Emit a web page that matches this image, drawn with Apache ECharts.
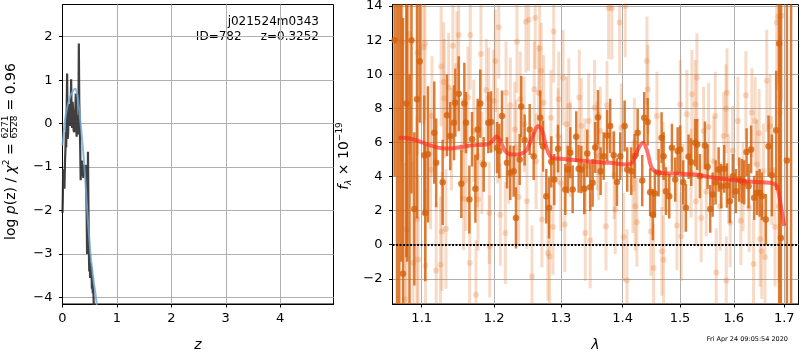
<!DOCTYPE html>
<html>
<head>
<meta charset="utf-8">
<script src="https://cdn.jsdelivr.net/npm/echarts@6/dist/echarts.min.js"></script>
<style>
  html, body { margin: 0; padding: 0; background: #fff; }
  #main { width: 800px; height: 350px; }
</style>
</head>
<body>
<div id="main"></div>
<script>
var chartDom = document.getElementById('main');
var myChart = echarts.init(chartDom);
var option;

// ---- left panel: log p(z)
var pzZ = [0.0, 0.006, 0.012, 0.02, 0.03, 0.036, 0.045, 0.054, 0.062, 0.068, 0.075, 0.085, 0.095, 0.104, 0.112, 0.122, 0.13, 0.14, 0.15, 0.159, 0.168, 0.177, 0.186, 0.195, 0.204, 0.214, 0.222, 0.232, 0.244, 0.252, 0.26, 0.268, 0.276, 0.284, 0.292, 0.3, 0.308, 0.318, 0.326, 0.334, 0.342, 0.35, 0.358, 0.366, 0.374, 0.382, 0.39, 0.398, 0.408, 0.418, 0.428, 0.437, 0.445, 0.452, 0.46, 0.468, 0.476, 0.484, 0.492, 0.5, 0.508, 0.516, 0.524, 0.532, 0.54, 0.548, 0.556, 0.564, 0.572, 0.58];
var pzLog = [-2.05, -1.7, -1.05, -1.25, -1.15, -1.5, -0.9, -0.6, -0.2, -0.55, 0.15, 1.15, -0.35, -0.2, 0.45, 0.35, 0.05, -0.05, 0.3, 1.02, 0.1, -0.1, 0.5, 0.3, -0.15, -0.2, 0.25, 0.1, 0.69, -0.1, -0.3, 0.2, -0.05, 0.0, -0.25, 1.84, 0.5, -0.05, -0.6, -1.3, -0.95, -1.2, -0.85, -1.1, -0.95, -1.25, -1.0, -1.15, -0.95, -1.2, -0.95, -1.5, -2.2, -3.0, -2.2, -0.65, -1.8, -2.9, -3.4, -3.0, -3.55, -3.2, -3.4, -3.3, -3.8, -3.5, -3.9, -3.7, -4.05, -4.6];
var fitZ = [0.0, 0.03, 0.06, 0.1, 0.15, 0.2, 0.23, 0.26, 0.29, 0.32, 0.34, 0.37, 0.4, 0.43, 0.46, 0.49, 0.52, 0.55, 0.58, 0.61, 0.63, 0.65];
var fitLog = [-0.5, -0.1, 0.2, 0.45, 0.65, 0.77, 0.8, 0.74, 0.5, 0.15, -0.1, -0.5, -0.95, -1.5, -2.1, -2.6, -3.07, -3.4, -3.7, -3.95, -4.17, -4.5];
var zTicks = [0, 1, 2, 3, 4];
var logpTicks = [-4, -3, -2, -1, 0, 1, 2];

// ---- right panel: spectrum
var darkWave = [1.0648, 1.0679, 1.0708, 1.0734, 1.0756, 1.0799, 1.0810, 1.0840, 1.0866, 1.0903, 1.0938, 1.0974, 1.1034, 1.1047, 1.1083, 1.1167, 1.1193, 1.1280, 1.1339, 1.1384, 1.1435, 1.1453, 1.1500, 1.1536, 1.1578, 1.1601, 1.1648, 1.1685, 1.1732, 1.1765, 1.1801, 1.1850, 1.1916, 1.1954, 1.2041, 1.2074, 1.2113, 1.2186, 1.2234, 1.2284, 1.2318, 1.2373, 1.2397, 1.2447, 1.2523, 1.2583, 1.2683, 1.2724, 1.2775, 1.2817, 1.2852, 1.2898, 1.2956, 1.3070, 1.3108, 1.3148, 1.3186, 1.3243, 1.3281, 1.3323, 1.3371, 1.3419, 1.3467, 1.3506, 1.3548, 1.3593, 1.3636, 1.3686, 1.3744, 1.3794, 1.3851, 1.3906, 1.3961, 1.4035, 1.4079, 1.4146, 1.4204, 1.4256, 1.4335, 1.4369, 1.4428, 1.4472, 1.4519, 1.4554, 1.4619, 1.4672, 1.4707, 1.4748, 1.4807, 1.4855, 1.4914, 1.4957, 1.5003, 1.5057, 1.5106, 1.5155, 1.5203, 1.5276, 1.5313, 1.5362, 1.5455, 1.5505, 1.5554, 1.5599, 1.5655, 1.5712, 1.5761, 1.5818, 1.5869, 1.5926, 1.5984, 1.6041, 1.6105, 1.6157, 1.6202, 1.6248, 1.6287, 1.6337, 1.6396, 1.6450, 1.6503, 1.6549, 1.6628, 1.6682, 1.6749, 1.6836, 1.6896, 1.6931, 1.7053, 1.7140];
var darkFlux = [12.0, 16, -5, 17, -1.7, 8.28, 15, -4, 12, 2.1, 8.53, 10.76, 5.25, 1.86, 5.3, 6.57, 4.8, 3.66, 7.59, 6.37, 7.16, 8.33, 8.86, 3.57, 8.28, 7.16, 2.65, 6.18, 3.28, 6.76, 8.28, 4.71, 7.16, 7.2, 5.69, 5.49, 7.55, 4.8, 4.22, 4.31, 1.57, 5.0, 8.1, 6.14, 6.76, 5.19, 7.45, 5.78, 2.84, 2.16, 4.86, 3.82, 5.63, 3.24, 4.41, 5.39, 3.24, 6.33, 4.45, 4.41, 3.28, 5.35, 3.37, 3.63, 5.7, 7.47, 4.31, 5.19, 6.41, 6.96, 5.24, 3.67, 5.19, 6.96, 4.41, 4.31, 5.19, 6.57, 3.76, 7.45, 7.2, 3.08, 1.76, 3.0, 4.22, 6.27, 5.19, 3.14, 2.84, 5.69, 3.82, 5.49, 5.59, 3.66, 2.16, 5.16, 4.84, 5.98, 5.88, 4.02, 5.82, 4.57, 2.1, 2.94, 3.66, 4.41, 3.43, 4.45, 3.47, 2.55, 4.02, 3.14, 3.82, 3.72, 3.66, 5.43, 3.43, 5.59, 2.75, 3.04, 3.04, 2.84, 1.47, 5.78, 4.07, 6.71, 11.8, 0.39, 4.94, 20];
var darkErr = [8, 22, 20, 18, 15, 9, 16, 14, 9, 4.5, 7, 3.6, 3.5, 4, 4, 3, 2.6, 2.5, 2.4, 2.0, 2.2, 2.0, 2.2, 2.0, 2.4, 1.8, 2.0, 1.6, 2.0, 1.8, 2.0, 1.6, 1.8, 1.8, 1.5, 1.6, 1.5, 1.5, 1.6, 1.5, 1.8, 1.5, 1.8, 1.5, 1.5, 1.4, 1.6, 1.5, 1.6, 1.8, 1.5, 1.5, 1.4, 1.5, 1.4, 1.5, 1.4, 1.5, 1.4, 1.4, 1.5, 1.4, 1.4, 1.4, 1.5, 1.6, 1.4, 1.4, 1.5, 1.6, 1.4, 1.4, 1.4, 1.5, 1.3, 1.4, 1.3, 1.4, 1.5, 1.5, 1.4, 1.4, 1.5, 1.4, 1.4, 1.5, 1.4, 1.4, 1.3, 1.4, 1.3, 1.4, 1.4, 1.3, 1.4, 1.3, 1.4, 1.4, 1.5, 1.3, 1.4, 1.3, 1.4, 1.3, 1.3, 1.3, 1.3, 1.4, 1.3, 1.3, 1.3, 1.3, 1.3, 1.3, 1.3, 1.4, 1.3, 1.4, 1.3, 1.3, 1.4, 1.4, 1.5, 1.8, 2.4, 3.5, 16, 20, 20, 30];

var lightWave = [1.0743, 1.0778, 1.0799, 1.0838, 1.0886, 1.0938, 1.0947, 1.0951, 1.1026, 1.1044, 1.1050, 1.1118, 1.1137, 1.1193, 1.1250, 1.1260, 1.1271, 1.1294, 1.1301, 1.1325, 1.1361, 1.1400, 1.1420, 1.1475, 1.1500, 1.1545, 1.1568, 1.1600, 1.1629, 1.1652, 1.1661, 1.1709, 1.1741, 1.1760, 1.1769, 1.1811, 1.1825, 1.1887, 1.1921, 1.1930, 1.1936, 1.1993, 1.2017, 1.2050, 1.2066, 1.2089, 1.2162, 1.2172, 1.2212, 1.2235, 1.2300, 1.2320, 1.2333, 1.2358, 1.2382, 1.2441, 1.2466, 1.2482, 1.2507, 1.2557, 1.2592, 1.2607, 1.2620, 1.2658, 1.2673, 1.2698, 1.2708, 1.2734, 1.2800, 1.2826, 1.2847, 1.2878, 1.2889, 1.2956, 1.2967, 1.3000, 1.3034, 1.3061, 1.3087, 1.3125, 1.3150, 1.3291, 1.3323, 1.3380, 1.3387, 1.3441, 1.3467, 1.3537, 1.3580, 1.3603, 1.3630, 1.3724, 1.3740, 1.3768, 1.3822, 1.3860, 1.3878, 1.3951, 1.3978, 1.4018, 1.4045, 1.4074, 1.4175, 1.4200, 1.4214, 1.4243, 1.4415, 1.4432, 1.4484, 1.4531, 1.4589, 1.4677, 1.4700, 1.4707, 1.4945, 1.5003, 1.5021, 1.5050, 1.5124, 1.5200, 1.5216, 1.5276, 1.5289, 1.5307, 1.5386, 1.5431, 1.5480, 1.5524, 1.5620, 1.5648, 1.5667, 1.5742, 1.5807, 1.5851, 1.5857, 1.5870, 1.5900, 1.5932, 1.5978, 1.6080, 1.6137, 1.6180, 1.6234, 1.6298, 1.6351, 1.6384, 1.6415, 1.6450, 1.6494, 1.6514, 1.6547, 1.6581, 1.6612, 1.6646, 1.6712, 1.6745, 1.6812, 1.6846, 1.6880, 1.6892, 1.6912, 1.6946];
var lightFlux = [11.86, -3.2, 0.88, 12.35, -1.08, 1.51, 11.27, -0.88, 11.57, 11.8, -1.24, 4.4, 7.55, -1.51, -1.18, 10.45, 0.78, 9.55, 8.57, 0.92, 9.22, 6.2, 11.67, 10.49, 12.3, 5.59, 2.69, 3.8, 8.63, -1.08, 12.3, 6.67, -2.94, 5.2, 2.65, 11.18, 4.8, 9.08, 8.57, 1.86, -0.1, 8.43, 10.78, 6.4, 12.75, 1.76, 0.69, 8.92, 5.2, 8.18, 6.76, 5.7, 11.9, 2.8, 8.53, 7.06, 13.08, 2.55, 13.2, -1.86, 9.12, 13.3, 4.9, 8.92, 11.51, 10.2, 1.47, 8.33, -0.49, -0.69, 7.45, 1.04, 12.51, 6.37, 8.53, 3.6, 9.8, 1.18, 7.06, 8.14, 5.59, 8.63, 6.96, 4.6, 0.69, 7.25, 0.25, 8.04, 5.8, 5.2, 6.67, 1.08, 8.18, 13.88, 13.86, 4.1, 2.06, 13.04, 6.86, 0.45, 14.0, -2.1, 3.28, 6.0, 2.25, 1.31, 10.78, 9.12, 0.78, -1.37, 7.55, -0.39, 4.6, -0.88, 1.12, 8.22, 0.49, 3.3, 7.65, 4.2, 8.82, 8.24, 2.55, 9.8, 1.57, 6.67, 3.1, 6.9, 4.9, 7.55, -1.63, 2.25, 6.37, 7.98, -2.1, 8.92, 3.9, 1.28, 5.53, 7.25, 1.41, 3.4, 8.76, 2.16, 7.75, -1.14, 7.25, 4.7, 6.53, 0.33, -0.39, 4.31, -0.72, 9.61, 6.96, 4.35, 1.04, 13.04, 13.39, 2.25, 7.75, 13.43];
var lightErr = [7, 8, 7, 7, 6, 6, 6, 5, 4.5, 4.5, 4.5, 3.5, 3.5, 4, 4, 3.5, 3.5, 3.5, 3.5, 3.5, 3.2, 3, 3.5, 3.2, 3.2, 3, 3, 3, 3, 3, 3.2, 3, 3.2, 3, 3, 3.2, 3, 3, 3, 3, 3, 3, 3, 2.8, 3, 3, 3, 3, 2.8, 2.8, 2.8, 2.8, 3, 2.8, 2.8, 2.8, 3, 2.8, 3, 3, 2.8, 3, 2.8, 2.8, 2.8, 2.8, 2.8, 2.8, 2.8, 2.8, 2.8, 2.8, 3, 2.8, 2.8, 2.8, 2.8, 2.8, 2.8, 2.8, 2.8, 2.8, 2.8, 2.8, 2.8, 2.8, 2.8, 2.8, 2.6, 2.6, 2.6, 2.6, 2.6, 3, 3, 2.6, 2.6, 3, 2.6, 2.6, 3, 3, 2.6, 2.6, 2.6, 2.6, 2.6, 2.6, 2.6, 2.6, 2.6, 2.6, 2.6, 2.6, 2.6, 2.6, 2.6, 2.6, 2.6, 2.6, 2.6, 2.6, 2.6, 2.6, 2.6, 2.6, 2.6, 2.6, 2.6, 2.6, 2.6, 2.6, 2.6, 2.6, 2.6, 2.6, 2.6, 2.6, 2.6, 2.6, 2.6, 2.6, 2.6, 2.6, 2.6, 2.6, 2.6, 2.6, 2.6, 2.8, 2.8, 2.8, 2.8, 3, 3, 3.2, 3.5, 4, 4, 4.5, 4.5, 5];

var modelWave = [1.070, 1.083, 1.096, 1.109, 1.127, 1.138, 1.155, 1.173, 1.190, 1.197, 1.203, 1.2074, 1.216, 1.226, 1.236, 1.243, 1.248, 1.258, 1.265, 1.271, 1.2785, 1.286, 1.299, 1.326, 1.352, 1.379, 1.407, 1.416, 1.424, 1.4345, 1.4415, 1.450, 1.462, 1.4975, 1.528, 1.559, 1.590, 1.6215, 1.655, 1.6745, 1.6846, 1.689, 1.6946, 1.700];
var modelFlux = [6.27, 6.25, 6.08, 5.86, 5.66, 5.64, 5.75, 5.84, 5.88, 6.05, 6.33, 6.2, 5.5, 5.29, 5.29, 5.4, 5.55, 6.5, 6.96, 6.7, 5.6, 5.1, 5.04, 4.96, 4.86, 4.8, 4.71, 4.8, 5.45, 5.98, 5.55, 4.5, 4.22, 4.16, 4.12, 3.94, 3.82, 3.72, 3.66, 3.62, 3.45, 3.0, 2.0, 1.1];
var waveTicks = [1.1, 1.2, 1.3, 1.4, 1.5, 1.6, 1.7];
var fluxTicks = [-2, 0, 2, 4, 6, 8, 10, 12, 14];

var FONT = 'DejaVu Sans';
var DARK = '#d5620c';

function pairs(xs, ys) {
  return xs.map(function (x, i) { return [x, ys[i]]; });
}
function minus(v) {
  return v < 0 ? '\u2212' + Math.abs(v) : String(v);
}

function errorBars(wave, flux, err, color, width, z) {
  return {
    type: 'custom',
    xAxisIndex: 1,
    yAxisIndex: 1,
    clip: true,
    silent: true,
    z: z,
    data: wave.map(function (w, i) { return [w, flux[i] - err[i], flux[i] + err[i]]; }),
    encode: { x: 0, y: [1, 2] },
    renderItem: function (params, api) {
      var lo = api.coord([api.value(0), api.value(1)]);
      var hi = api.coord([api.value(0), api.value(2)]);
      return {
        type: 'line',
        shape: { x1: lo[0], y1: lo[1], x2: hi[0], y2: hi[1] },
        style: { stroke: color, lineWidth: width }
      };
    }
  };
}

function axisCommon(ticks, fmt) {
  return {
    axisLine: { show: true, onZero: false, lineStyle: { color: '#000', width: 1 } },
    axisTick: { show: true, length: 3.5, customValues: ticks, lineStyle: { color: '#000' } },
    axisLabel: { customValues: ticks, formatter: fmt, color: '#000', fontFamily: FONT, fontSize: 13 },
    splitLine: { show: true, lineStyle: { color: '#b0b0b0', width: 1 } }
  };
}

var xLeft = Object.assign(axisCommon(zTicks, function (v) { return String(v); }), {
  type: 'value', gridIndex: 0, min: 0, max: 4.98,
  name: 'z', nameLocation: 'middle', nameGap: 34,
  nameTextStyle: { fontFamily: FONT, fontSize: 14, fontStyle: 'italic', color: '#000' }
});
xLeft.axisLabel.margin = 8;
var yLeft = Object.assign(axisCommon(logpTicks, minus), {
  type: 'value', gridIndex: 0, min: -4.15, max: 2.74
});
yLeft.axisLabel.margin = 10;

var xRight = Object.assign(axisCommon(waveTicks, function (v) { return Number(v).toFixed(1); }), {
  type: 'log', logBase: 10, gridIndex: 1, min: 1.0621, max: 1.7293,
  name: '\u03bb', nameLocation: 'middle', nameGap: 34,
  nameTextStyle: { fontFamily: FONT, fontSize: 14, fontStyle: 'italic', color: '#000' }
});
xRight.axisLabel.margin = 8;
var yRight = Object.assign(axisCommon(fluxTicks, minus), {
  type: 'value', gridIndex: 1, min: -3.48, max: 14.09
});
yRight.axisLabel.margin = 10;

option = {
  animation: false,
  backgroundColor: '#fff',
  grid: [
    { left: 62.5, top: 4.5, width: 271, height: 299.5, show: true, borderColor: '#000', borderWidth: 1, outerBoundsMode: 'none', containLabel: false },
    { left: 392.5, top: 4.5, width: 406, height: 299.5, show: true, borderColor: '#000', borderWidth: 1, outerBoundsMode: 'none', containLabel: false }
  ],
  xAxis: [xLeft, xRight],
  yAxis: [yLeft, yRight],
  series: [
    {
      type: 'line', xAxisIndex: 0, yAxisIndex: 0, data: pairs(pzZ, pzLog),
      showSymbol: false, clip: true, z: 3,
      lineStyle: { color: '#2b2b2b', width: 2.2, opacity: 0.9 }
    },
    {
      type: 'line', xAxisIndex: 0, yAxisIndex: 0, data: pairs(fitZ, fitLog),
      showSymbol: false, smooth: 0.4, clip: true, z: 4,
      lineStyle: { color: '#6fa8d6', width: 2, opacity: 0.8 }
    },
    errorBars(lightWave, lightFlux, lightErr, 'rgba(226,112,32,0.25)', 3, 1),
    {
      type: 'scatter', xAxisIndex: 1, yAxisIndex: 1, data: pairs(lightWave, lightFlux),
      symbolSize: 6, clip: true, z: 2,
      itemStyle: { color: 'rgba(226,112,32,0.3)' }
    },
    errorBars(darkWave, darkFlux, darkErr, 'rgba(213,98,12,0.82)', 2.5, 3),
    {
      type: 'scatter', xAxisIndex: 1, yAxisIndex: 1, data: pairs(darkWave, darkFlux),
      symbolSize: 6.5, clip: true, z: 4,
      itemStyle: { color: DARK }
    },
    {
      type: 'line', xAxisIndex: 1, yAxisIndex: 1, data: pairs(modelWave, modelFlux),
      showSymbol: false, smooth: 0.3, clip: true, z: 5,
      lineStyle: { color: 'rgba(255,40,30,0.65)', width: 4 },
      markLine: {
        silent: true, symbol: ['none', 'none'], z: 6,
        label: { show: false },
        lineStyle: { color: '#000', type: [2, 1.5], width: 2 },
        data: [{ yAxis: 0 }]
      }
    }
  ],
  graphic: [
    {
      type: 'text', x: 11, y: 240, rotation: Math.PI / 2,
      style: {
        text: 'log {i|p}(z) / {i|\u03c7}{sup|2} = ',
        x: 0, y: 0, align: 'left', verticalAlign: 'middle',
        fontFamily: FONT, fontSize: 14, fill: '#000',
        rich: {
          i: { fontFamily: FONT, fontSize: 14, fontStyle: 'italic', lineHeight: 18 },
          sup: { fontFamily: FONT, fontSize: 9, lineHeight: 9, verticalAlign: 'top' }
        }
      }
    },
    {
      type: 'text', x: 6, y: 127, rotation: Math.PI / 2,
      style: { text: '6271', x: 0, y: 0, align: 'center', verticalAlign: 'middle', fontFamily: FONT, fontSize: 9, fill: '#000' }
    },
    {
      type: 'line', shape: { x1: 10.5, y1: 116.5, x2: 10.5, y2: 137.5 },
      style: { stroke: '#000', lineWidth: 0.8 }
    },
    {
      type: 'text', x: 15, y: 127, rotation: Math.PI / 2,
      style: { text: '6528', x: 0, y: 0, align: 'center', verticalAlign: 'middle', fontFamily: FONT, fontSize: 9, fill: '#000' }
    },
    {
      type: 'text', x: 11, y: 115, rotation: Math.PI / 2,
      style: { text: ' = 0.96', x: 0, y: 0, align: 'left', verticalAlign: 'middle', fontFamily: FONT, fontSize: 14, fill: '#000' }
    },
    {
      type: 'text', x: 344, y: 156, rotation: Math.PI / 2,
      style: {
        text: '{i|f}{sub|\u03bb} \u00d7 10{sup|\u221219}',
        x: 0, y: 0, align: 'center', verticalAlign: 'middle',
        fontFamily: FONT, fontSize: 14, fill: '#000',
        rich: {
          i: { fontFamily: FONT, fontSize: 14, fontStyle: 'italic', lineHeight: 18 },
          sub: { fontFamily: FONT, fontSize: 9, fontStyle: 'italic', lineHeight: 9, verticalAlign: 'bottom' },
          sup: { fontFamily: FONT, fontSize: 9, lineHeight: 9, verticalAlign: 'top' }
        }
      }
    },
    {
      type: 'text', x: 319, y: 22,
      style: { text: 'j021524m0343', align: 'right', verticalAlign: 'middle', fontFamily: FONT, fontSize: 12, fill: '#000' }
    },
    {
      type: 'text', x: 319, y: 37,
      style: { text: 'ID=782     z=0.3252', align: 'right', verticalAlign: 'middle', fontFamily: FONT, fontSize: 12, fill: '#000' }
    },
    {
      type: 'text', x: 788, y: 339,
      style: { text: 'Fri Apr 24 09:05:54 2020', align: 'right', verticalAlign: 'middle', fontFamily: FONT, fontSize: 6.5, fill: '#000' }
    }
  ]
};

option && myChart.setOption(option);
</script>
</body>
</html>
